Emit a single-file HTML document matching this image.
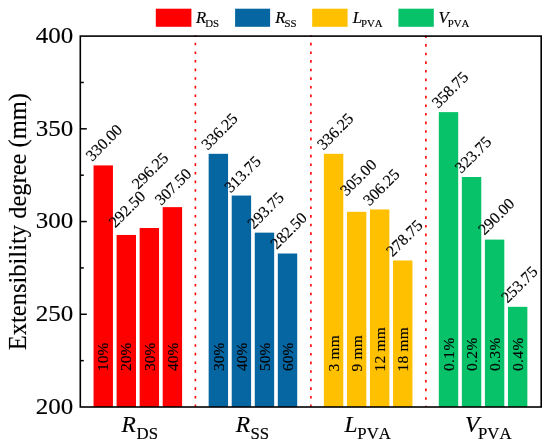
<!DOCTYPE html>
<html lang="en">
<head>
<meta charset="utf-8">
<title>Extensibility degree</title>
<style>
html,body{margin:0;padding:0;background:#fff;}
body{width:550px;height:448px;overflow:hidden;}
svg{display:block;}
text{font-family:"Liberation Serif","Times New Roman",serif;fill:#000;font-kerning:none;stroke:#000;stroke-width:0.15px;}
.i{font-style:italic;}
</style>
</head>
<body>
<svg width="550" height="448" viewBox="0 0 550 448">
<rect x="0" y="0" width="550" height="448" fill="#ffffff"/>
<rect x="93.54" y="165.41" width="19.40" height="241.59" fill="#ff0000"/>
<rect x="116.59" y="234.96" width="19.40" height="172.04" fill="#ff0000"/>
<rect x="139.64" y="228.00" width="19.40" height="179.00" fill="#ff0000"/>
<rect x="162.69" y="207.14" width="19.40" height="199.86" fill="#ff0000"/>
<rect x="208.66" y="153.82" width="19.40" height="253.18" fill="#0566a2"/>
<rect x="231.71" y="195.55" width="19.40" height="211.45" fill="#0566a2"/>
<rect x="254.76" y="232.64" width="19.40" height="174.36" fill="#0566a2"/>
<rect x="277.81" y="253.50" width="19.40" height="153.50" fill="#0566a2"/>
<rect x="323.89" y="153.82" width="19.40" height="253.18" fill="#ffc000"/>
<rect x="346.94" y="211.78" width="19.40" height="195.22" fill="#ffc000"/>
<rect x="369.99" y="209.46" width="19.40" height="197.54" fill="#ffc000"/>
<rect x="393.04" y="260.46" width="19.40" height="146.54" fill="#ffc000"/>
<rect x="438.81" y="112.10" width="19.40" height="294.90" fill="#08c26a"/>
<rect x="461.86" y="177.01" width="19.40" height="229.99" fill="#08c26a"/>
<rect x="484.91" y="239.59" width="19.40" height="167.41" fill="#08c26a"/>
<rect x="507.96" y="306.82" width="19.40" height="100.18" fill="#08c26a"/>
<line x1="195.40" y1="35.30" x2="195.40" y2="407.00" stroke="#ff0000" stroke-width="1.6" stroke-dasharray="2.6 6.013" stroke-dashoffset="1.15"/>
<line x1="310.90" y1="35.30" x2="310.90" y2="407.00" stroke="#ff0000" stroke-width="1.6" stroke-dasharray="2.6 6.013" stroke-dashoffset="1.06"/>
<line x1="425.90" y1="35.30" x2="425.90" y2="407.00" stroke="#ff0000" stroke-width="1.6" stroke-dasharray="2.6 6.013" stroke-dashoffset="-0.19"/>
<rect x="80.30" y="36.10" width="460.90" height="370.90" fill="none" stroke="#000" stroke-width="1.6"/>
<line x1="80.30" y1="360.64" x2="83.80" y2="360.64" stroke="#000" stroke-width="1.5"/>
<line x1="80.30" y1="314.27" x2="86.80" y2="314.27" stroke="#000" stroke-width="1.5"/>
<line x1="80.30" y1="267.91" x2="83.80" y2="267.91" stroke="#000" stroke-width="1.5"/>
<line x1="80.30" y1="221.55" x2="86.80" y2="221.55" stroke="#000" stroke-width="1.5"/>
<line x1="80.30" y1="175.19" x2="83.80" y2="175.19" stroke="#000" stroke-width="1.5"/>
<line x1="80.30" y1="128.83" x2="86.80" y2="128.83" stroke="#000" stroke-width="1.5"/>
<line x1="80.30" y1="82.46" x2="83.80" y2="82.46" stroke="#000" stroke-width="1.5"/>
<text transform="translate(73.2 413.90) scale(1 0.94)" font-size="25" text-anchor="end">200</text>
<text transform="translate(73.2 321.17) scale(1 0.94)" font-size="25" text-anchor="end">250</text>
<text transform="translate(73.2 228.45) scale(1 0.94)" font-size="25" text-anchor="end">300</text>
<text transform="translate(73.2 135.73) scale(1 0.94)" font-size="25" text-anchor="end">350</text>
<text transform="translate(73.2 43.00) scale(1 0.94)" font-size="25" text-anchor="end">400</text>
<text transform="translate(25.8 350.2) rotate(-90)" font-size="24.5">Extensibility degree (mm)</text>
<text transform="translate(92.14 161.91) rotate(-45)" font-size="16">330.00</text>
<text transform="translate(108.44 371) rotate(-90)" font-size="15.4">10%</text>
<text transform="translate(115.19 228.56) rotate(-45)" font-size="16">292.50</text>
<text transform="translate(131.49 371) rotate(-90)" font-size="15.4">20%</text>
<text transform="translate(138.24 190.10) rotate(-45)" font-size="16">296.25</text>
<text transform="translate(154.54 371) rotate(-90)" font-size="15.4">30%</text>
<text transform="translate(161.29 206.04) rotate(-45)" font-size="16">307.50</text>
<text transform="translate(177.59 371) rotate(-90)" font-size="15.4">40%</text>
<text transform="translate(207.66 150.82) rotate(-45)" font-size="16">336.25</text>
<text transform="translate(223.66 371) rotate(-90)" font-size="15.4">30%</text>
<text transform="translate(230.71 193.55) rotate(-45)" font-size="16">313.75</text>
<text transform="translate(246.71 371) rotate(-90)" font-size="15.4">40%</text>
<text transform="translate(253.76 229.64) rotate(-45)" font-size="16">293.75</text>
<text transform="translate(269.76 371) rotate(-90)" font-size="15.4">50%</text>
<text transform="translate(276.81 250.00) rotate(-45)" font-size="16">282.50</text>
<text transform="translate(292.81 371) rotate(-90)" font-size="15.4">60%</text>
<text transform="translate(323.39 150.82) rotate(-45)" font-size="16">336.25</text>
<text transform="translate(338.89 371.5) rotate(-90)" font-size="15.4" letter-spacing="0.25">3 mm</text>
<text transform="translate(346.44 196.78) rotate(-45)" font-size="16">305.00</text>
<text transform="translate(361.94 371.5) rotate(-90)" font-size="15.4" letter-spacing="0.25">9 mm</text>
<text transform="translate(369.49 206.46) rotate(-45)" font-size="16">306.25</text>
<text transform="translate(384.99 371.5) rotate(-90)" font-size="15.4" letter-spacing="0.25">12 mm</text>
<text transform="translate(392.54 257.46) rotate(-45)" font-size="16">278.75</text>
<text transform="translate(408.04 371.5) rotate(-90)" font-size="15.4" letter-spacing="0.25">18 mm</text>
<text transform="translate(438.31 109.10) rotate(-45)" font-size="16">358.75</text>
<text transform="translate(454.11 371) rotate(-90)" font-size="15.4" letter-spacing="0.4">0.1%</text>
<text transform="translate(461.36 174.01) rotate(-45)" font-size="16">323.75</text>
<text transform="translate(477.16 371) rotate(-90)" font-size="15.4" letter-spacing="0.4">0.2%</text>
<text transform="translate(484.41 235.79) rotate(-45)" font-size="16">290.00</text>
<text transform="translate(500.21 371) rotate(-90)" font-size="15.4" letter-spacing="0.4">0.3%</text>
<text transform="translate(507.46 303.82) rotate(-45)" font-size="16">253.75</text>
<text transform="translate(523.26 371) rotate(-90)" font-size="15.4" letter-spacing="0.4">0.4%</text>
<text x="121.6" y="432" font-size="23.4" class="i">R</text>
<text x="136.6" y="439.4" font-size="16.8">DS</text>
<text x="235.7" y="432" font-size="23.4" class="i">R</text>
<text x="250.4" y="439.4" font-size="16.8">SS</text>
<text x="344.5" y="432" font-size="23.4" class="i">L</text>
<text x="357.3" y="439.4" font-size="16.8">PVA</text>
<text x="464.9" y="432" font-size="23.4" class="i">V</text>
<text x="478.0" y="439.4" font-size="16.8">PVA</text>
<rect x="155.8" y="8.7" width="35.6" height="18.1" fill="#ff0000"/>
<text x="196.0" y="23.1" font-size="16.6" class="i">R</text>
<text x="205.3" y="27.0" font-size="10.8">DS</text>
<rect x="235.1" y="8.7" width="35.0" height="18.1" fill="#0566a2"/>
<text x="275.2" y="23.1" font-size="16.6" class="i">R</text>
<text x="284.5" y="27.0" font-size="10.8">SS</text>
<rect x="312.2" y="8.7" width="35.4" height="18.1" fill="#ffc000"/>
<text x="352.7" y="23.1" font-size="16.6" class="i">L</text>
<text x="360.9" y="27.0" font-size="10.8">PVA</text>
<rect x="398.4" y="8.7" width="35.4" height="18.1" fill="#08c26a"/>
<text x="438.6" y="23.1" font-size="16.6" class="i">V</text>
<text x="447.7" y="27.0" font-size="10.8">PVA</text>
</svg>
</body>
</html>
